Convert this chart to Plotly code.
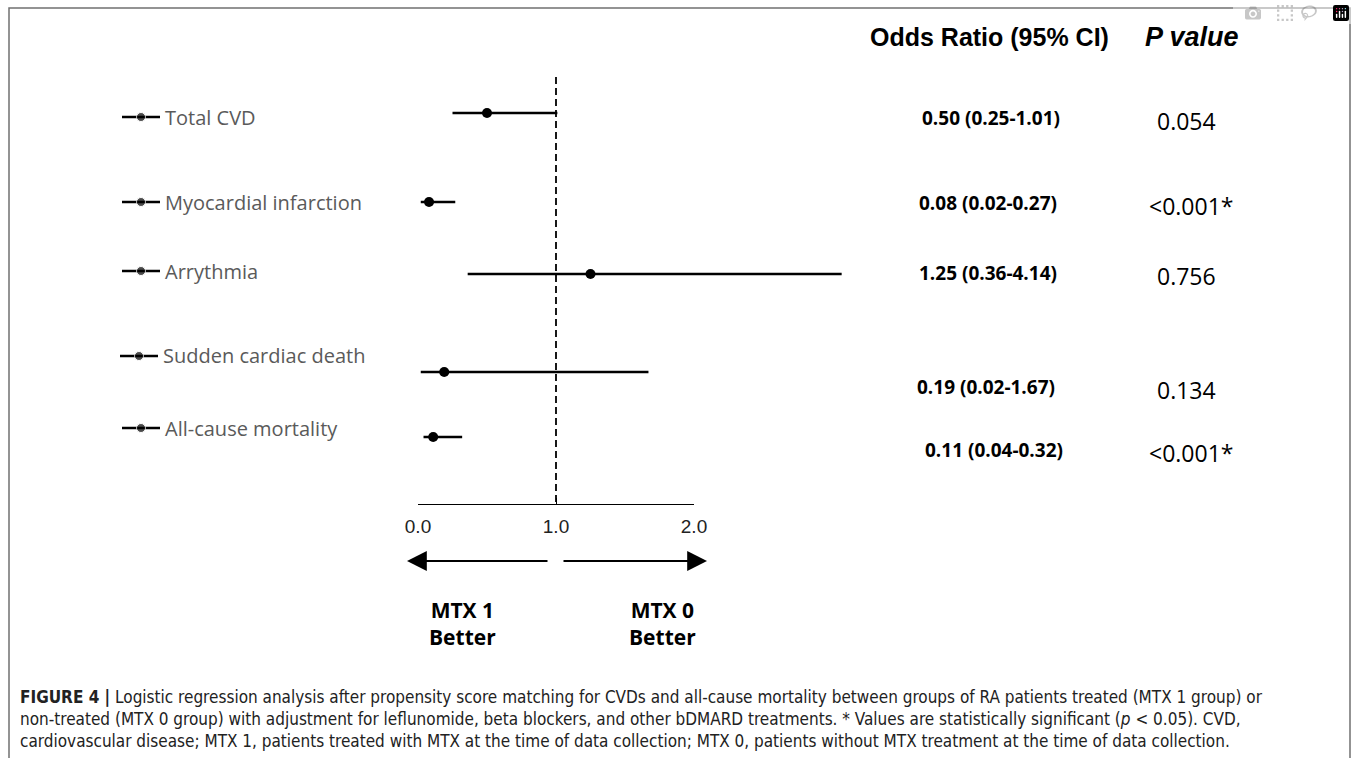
import plotly.graph_objects as go

# ---------------- data ----------------
outcomes = ["Total CVD", "Myocardial infarction", "Arrythmia",
            "Sudden cardiac death", "All-cause mortality"]
odds_ratio = [0.50, 0.08, 1.25, 0.19, 0.11]
ci_low = [0.25, 0.02, 0.36, 0.02, 0.04]
ci_high = [1.01, 0.27, 4.14, 1.67, 0.32]
# upper CI ends as drawn in the artwork (the Arrythmia whisker is truncated)
ci_high_drawn = [1.01, 0.27, 3.07, 1.67, 0.32]
p_values = ["0.054", "<0.001*", "0.756", "0.134", "<0.001*"]
tick_vals = [0, 1, 2]
tick_text = ["0.0", "1.0", "2.0"]

# ---------------- layout constants (pixels from top of a 1355x758 page) ----------------
W, H = 1355, 758
PX_PER_UNIT = 138.0
X_ZERO_PX = 418.0
row_line_y = [113, 202, 274, 372, 437]      # whisker rows
row_label_y = [117, 202, 271, 356, 428]     # left labels
row_text_y = [118, 203, 273, 387, 450]      # OR / p-value text
label_icon_x = [122, 122, 122, 120, 122]

x_min = -X_ZERO_PX / PX_PER_UNIT
x_max = x_min + W / PX_PER_UNIT


def px(xp):
    return xp / W


def py(yp):
    return 1 - yp / H


fig = go.Figure()

# whiskers
for i in range(len(outcomes)):
    fig.add_trace(go.Scatter(
        x=[ci_low[i], ci_high_drawn[i]], y=[row_line_y[i], row_line_y[i]],
        mode="lines", line=dict(color="black", width=2.6),
        hoverinfo="skip", showlegend=False))

# points
fig.add_trace(go.Scatter(
    x=odds_ratio, y=row_line_y, mode="markers",
    marker=dict(color="black", size=10),
    text=outcomes, hovertemplate="%{text}: %{x:.2f}<extra></extra>",
    showlegend=False))

# legend-like icons beside the labels (pixel units on overlay axis x2)
for i in range(len(outcomes)):
    x0 = label_icon_x[i]
    fig.add_trace(go.Scatter(
        x=[x0, x0 + 19, x0 + 38], y=[row_label_y[i]] * 3,
        xaxis="x2", mode="lines+markers",
        line=dict(color="black", width=2.4),
        marker=dict(color="black", size=[0, 9, 0]),
        hoverinfo="skip", showlegend=False))

# axis subplot (0.0 - 2.0)
fig.add_trace(go.Scatter(x=[0, 2], y=[0, 0], xaxis="x3", yaxis="y3",
                         mode="markers", marker=dict(opacity=0),
                         hoverinfo="skip", showlegend=False))

axis_y = 504
fig.update_layout(
    width=W, height=H,
    margin=dict(l=0, r=0, t=0, b=0, pad=0, autoexpand=False),
    paper_bgcolor="white", plot_bgcolor="rgba(0,0,0,0)",
    xaxis=dict(domain=[0, 1], range=[x_min, x_max], visible=False, fixedrange=True),
    yaxis=dict(domain=[0, 1], range=[H, 0], visible=False, fixedrange=True),
    xaxis2=dict(overlaying="x", range=[0, W], visible=False, fixedrange=True),
    xaxis3=dict(domain=[px(X_ZERO_PX), px(X_ZERO_PX + 2 * PX_PER_UNIT)],
                range=[0, 2], anchor="y3", showline=True, linecolor="black",
                linewidth=1.3, ticks="inside", ticklen=6, tickcolor="black",
                tickwidth=1.3, tickvals=tick_vals, ticktext=tick_text,
                showgrid=False, zeroline=False, ticklabelstandoff=5,
                tickfont=dict(family="Liberation Sans, Arial", size=19, color="#222"),
                fixedrange=True),
    yaxis3=dict(domain=[py(axis_y), py(axis_y) + 0.005], visible=False,
                range=[0, 1], fixedrange=True),
    showlegend=False,
)

shapes = []
# outer border
shapes.append(dict(type="rect", xref="paper", yref="paper",
                   x0=px(9), x1=px(1350), y0=-0.02, y1=py(8),
                   line=dict(color="#707070", width=1.5)))
# null line
shapes.append(dict(type="line", xref="x", yref="y", x0=1, x1=1, y0=77, y1=axis_y,
                   line=dict(color="black", width=1.8, dash="7px,4px")))
fig.update_layout(shapes=shapes)

ann = []
label_font = dict(family="Open Sans, Noto Sans, sans-serif", size=20, color="#5a5a5a")
for i, name in enumerate(outcomes):
    ann.append(dict(x=px(label_icon_x[i] + 41), y=py(row_label_y[i]), xref="paper", yref="paper",
                    text=name, showarrow=False, xanchor="left", yanchor="middle",
                    font=label_font))

or_font = dict(family="Open Sans, Noto Sans, sans-serif", size=19, color="black")
p_font = dict(family="Open Sans, Noto Sans, sans-serif", size=23, color="black")
or_x = [991, 988, 988, 986, 994]
for i in range(len(outcomes)):
    ann.append(dict(x=px(or_x[i]), y=py(row_text_y[i]), xref="paper", yref="paper",
                    text="<b>%.2f (%.2f-%.2f)</b>" % (odds_ratio[i], ci_low[i], ci_high[i]),
                    showarrow=False, xanchor="center", yanchor="middle", font=or_font))
    ann.append(dict(x=px(1186 if not p_values[i].startswith("<") else 1191),
                    y=py(row_text_y[i] + 3), xref="paper", yref="paper",
                    text=p_values[i], showarrow=False, xanchor="center", yanchor="middle",
                    font=p_font))

ann.append(dict(x=px(868), y=py(37), xref="paper", yref="paper",
                text="<b>Odds Ratio (95% CI)</b>", showarrow=False,
                xanchor="left", yanchor="middle",
                font=dict(family="Liberation Sans, Arial", size=25, color="black")))
ann.append(dict(x=px(1143), y=py(37), xref="paper", yref="paper",
                text="<b><i>P value</i></b>", showarrow=False,
                xanchor="left", yanchor="middle",
                font=dict(family="Liberation Sans, Arial", size=27, color="black")))

# direction arrows (pixel units: x2 horizontally, y vertically)
arrow_y = 561
ann.append(dict(x=407, y=arrow_y, ax=549, ay=arrow_y,
                xref="x2", yref="y", axref="x2", ayref="y",
                text="", showarrow=True, arrowhead=2, arrowsize=1.8, arrowwidth=2.2,
                arrowcolor="black"))
ann.append(dict(x=707, y=arrow_y, ax=562, ay=arrow_y,
                xref="x2", yref="y", axref="x2", ayref="y",
                text="", showarrow=True, arrowhead=2, arrowsize=1.8, arrowwidth=2.2,
                arrowcolor="black"))

mtx_font = dict(family="Open Sans, Noto Sans, sans-serif", size=21, color="black")
ann.append(dict(x=px(462), y=py(623), xref="paper", yref="paper",
                text="<b>MTX 1<br>Better</b>", showarrow=False, xanchor="center",
                yanchor="middle", font=mtx_font, align="center"))
ann.append(dict(x=px(662), y=py(623), xref="paper", yref="paper",
                text="<b>MTX 0<br>Better</b>", showarrow=False, xanchor="center",
                yanchor="middle", font=mtx_font, align="center"))

caption = ("<b>FIGURE 4 |</b> Logistic regression analysis after propensity score matching for CVDs and "
           "all-cause mortality between groups of RA patients treated (MTX 1 group) or<br>"
           "non-treated (MTX 0 group) with adjustment for leflunomide, beta blockers, and other "
           "bDMARD treatments. * Values are statistically significant (<i>p</i> &lt; 0.05). CVD,<br>"
           "cardiovascular disease; MTX 1, patients treated with MTX at the time of data collection; "
           "MTX 0, patients without MTX treatment at the time of data collection.")
ann.append(dict(x=px(18), y=py(719), xref="paper", yref="paper", text=caption,
                showarrow=False, xanchor="left", yanchor="middle", align="left",
                font=dict(family="Liberation Sans Narrow, DejaVu Sans Condensed, sans-serif",
                          size=17, color="#222")))

fig.update_layout(annotations=ann)

fig.write_html("out.html",
               post_script="document.body.style.margin='0';document.body.style.overflow='hidden';")
